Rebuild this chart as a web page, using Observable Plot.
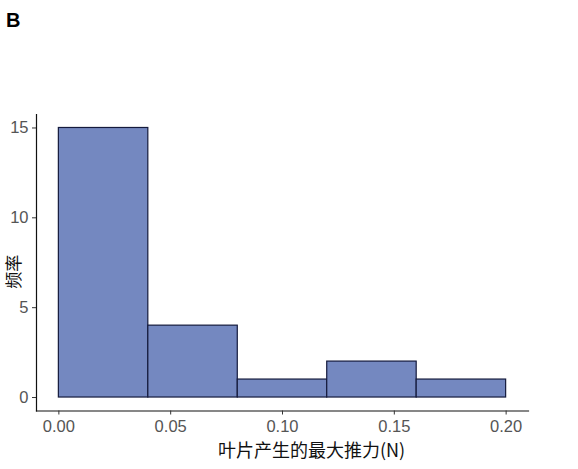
<!DOCTYPE html>
<html>
<head>
<meta charset="utf-8">
<script src="https://cdn.jsdelivr.net/npm/d3@7"></script>
<script src="https://cdn.jsdelivr.net/npm/@observablehq/plot@0.6"></script>
<style>
  body { margin: 0; background: #fff; }
  #wrap { position: relative; width: 578px; height: 469px; }
  #panel { position: absolute; left: 6px; top: 9px; font: bold 20px "Liberation Sans", Arial, sans-serif; color: #000; }
</style>
</head>
<body>
<div id="wrap">
  <div id="panel">B</div>
  <div id="chart"></div>
</div>
<script>
const binStart = [0.00, 0.04, 0.08, 0.12, 0.16];
const binEnd   = [0.04, 0.08, 0.12, 0.16, 0.20];
const counts   = [15, 4, 1, 2, 1];
const xTicks = [0.00, 0.05, 0.10, 0.15, 0.20];
const yTicks = [0, 5, 10, 15];
const xLabel = "叶片产生的最大推力(N)";
const yLabel = "频率";

const bins = binStart.map((s, i) => ({x1: s, x2: binEnd[i], count: counts[i]}));

const chart = Plot.plot({
  width: 578,
  height: 469,
  marginLeft: 36,
  marginRight: 50,
  marginTop: 114,
  marginBottom: 58.5,
  style: {fontFamily: "'Liberation Sans', Arial, sans-serif", background: "#fff", overflow: "visible"},
  x: {domain: [-0.01, 0.21]},
  y: {domain: [-0.75, 15.75]},
  marks: [
    Plot.rectY(bins, {x1: "x1", x2: "x2", y1: 0, y2: "count", fill: "#7488c0", stroke: "#141a3c", strokeWidth: 1.2}),
    Plot.frame({anchor: "left", stroke: "#111", strokeWidth: 1.2}),
    Plot.frame({anchor: "bottom", stroke: "#111", strokeWidth: 1.2}),
    Plot.axisX({ticks: xTicks, tickFormat: d3.format(".2f"), tickSize: 4, tickPadding: 5, fontSize: 16.5, color: "#555", stroke: "#333", label: null}),
    Plot.axisY({ticks: yTicks, tickSize: 4, tickPadding: 4, fontSize: 16.5, color: "#555", stroke: "#333", label: null}),
    Plot.text([xLabel], {frameAnchor: "bottom", dx: 29, dy: 40, lineAnchor: "middle", fontSize: 18, fill: "#111", fontFamily: "'Noto Sans CJK SC', sans-serif"}),
    Plot.text([yLabel], {frameAnchor: "left", dx: -22, dy: 26, rotate: -90, lineAnchor: "middle", fontSize: 17, fill: "#111", fontFamily: "'Noto Sans CJK SC', sans-serif"})
  ]
});
document.getElementById("chart").appendChild(chart);
</script>
</body>
</html>
